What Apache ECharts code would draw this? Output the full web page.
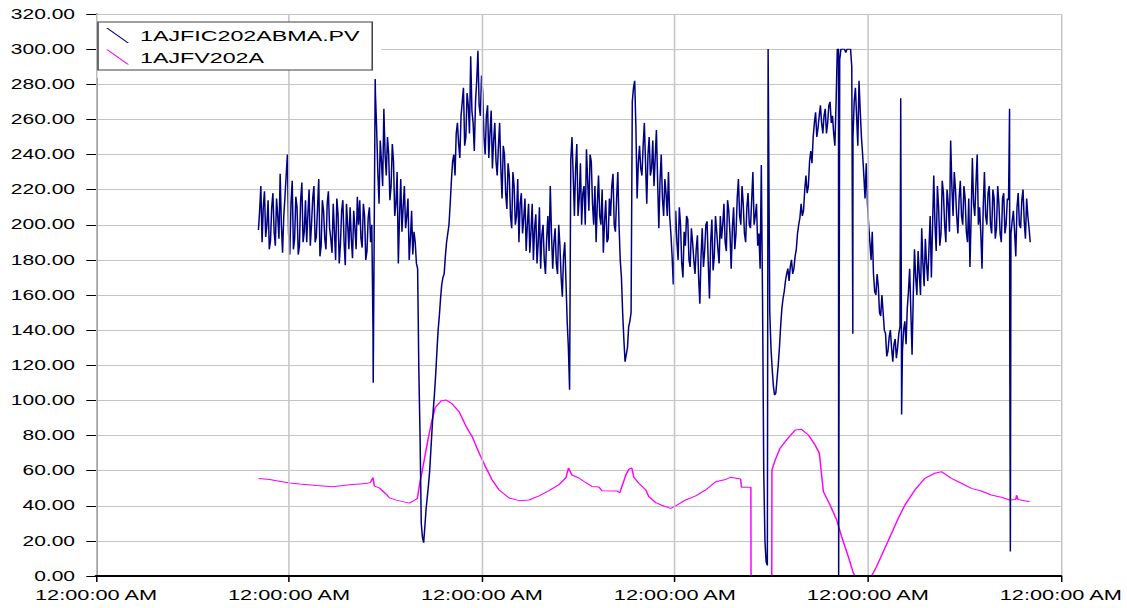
<!DOCTYPE html>
<html><head><meta charset="utf-8">
<script src="https://cdn.jsdelivr.net/npm/echarts@6/dist/echarts.min.js"></script>
<style>
html,body{margin:0;padding:0;background:#fff;overflow:hidden;width:1127px;height:608px}
#wrap{width:751px;height:608px;transform:scaleX(1.50067);transform-origin:0 0;}
</style></head><body><div id="wrap"></div>
<script>
const seriesNames = ['1AJFIC202ABMA.PV', '1AJFV202A'];
const xTickLabels = ['12:00:00 AM', '12:00:00 AM', '12:00:00 AM', '12:00:00 AM', '12:00:00 AM', '12:00:00 AM'];
// blue: time in hours, samples every 0.3 h from 20.2 h, plus a reading half-way between each pair
const blueStart = 20.2, blueStep = 0.3;
const blueValues = [
197,222,210,193,214,191,218,188,205,229,
184,216,240,183,225,192,210,188,224,196,
190,220,200,222,193,226,188,208,186,219,
192,212,180,206,189,214,177,200,210,181,
198,216,214,187,205,185,210,200,196,255,
212,236,266,228,240,222,236,212,178,226,
210,198,215,192,183,190,175,80,22,28,
45,60,84,104,128,148,166,172,190,200,
225,240,252,246,262,278,250,268,296,258,
270,299,262,275,240,268,252,232,258,228,
258,215,240,209,228,198,222,205,190,218,
204,185,212,196,180,206,190,175,200,172,
205,222,175,198,172,188,159,190,145,106,
250,205,246,215,200,222,243,208,236,200,
190,228,200,184,214,192,205,229,196,230,
180,150,122,130,145,270,282,215,245,228,
258,212,250,232,222,254,198,240,205,218,
230,195,166,208,180,200,170,188,203,176,
190,172,194,155,198,185,202,158,203,182,
196,178,192,212,185,208,175,210,195,226,
200,212,190,218,198,230,205,188,175,158,
20,6,150,118,103,112,130,152,162,172,
168,180,175,186,200,212,208,228,222,242,
250,264,255,268,252,266,258,270,262,245,
300,294,300,300,300,300,290,270,262,282,
250,228,235,200,180,172,160,165,148,150,
138,128,140,122,135,130,142,128,145,152,
175,126,186,160,172,198,165,178,186,170,
228,185,210,195,218,190,212,248,205,220,
195,225,200,215,190,176,238,205,240,210,
175,230,200,222,195,215,198,212,190,218,
200,214,195,208,182,218,198,220,192,205,190
];
const blueMidValues = [
208,190,219,200,186,210,196,215,192,200,
205,228,195,212,186,216,183,214,190,214,
206,188,215,190,210,182,214,192,212,198,
184,196,215,178,208,190,212,186,192,208,
186,200,192,212,180,204,190,140,275,230,
248,222,240,250,214,246,205,230,205,196,
222,205,180,208,196,178,117,30,19,38,
52,72,95,115,140,158,170,182,195,212,
236,228,258,238,270,245,275,252,265,242,
282,268,285,250,262,238,265,248,236,245,
232,245,218,235,205,230,200,226,212,195,
215,200,184,212,198,178,210,194,180,192,
185,195,190,178,200,170,182,168,130,237,
228,232,205,235,218,200,225,240,212,222,
212,205,220,202,190,215,222,200,215,200,
170,135,126,142,150,278,255,235,232,245,
235,240,228,248,238,225,225,215,226,205,
205,182,192,190,210,178,196,205,180,198,
180,186,170,182,176,200,178,190,174,205,
186,205,200,190,214,195,198,186,215,205,
222,195,210,200,214,200,212,195,234,60,
8,300,130,108,104,120,142,158,168,175,
176,172,182,195,204,205,220,218,236,235,
258,250,262,258,262,252,268,258,252,270,
300,300,300,298,300,300,250,278,245,265,
240,215,212,190,196,162,172,150,160,140,
125,136,130,132,124,138,180,140,132,162,
150,160,170,185,160,178,192,168,205,200,
200,222,188,225,200,220,196,222,230,205,
215,205,222,196,215,205,212,224,200,195,
210,205,218,200,220,192,222,195,215,195,
215,140,202,196,210,200,214,202,215,198
];
// isolated spikes [hour, value]
const blueSpikes = [
[34.475,110],[34.723,283],[83.594,300],[83.706,300],
[92.368,0],[94.130,138],[100.087,272],[100.199,92],[113.626,266],[113.726,14]
];
const pinkPoints = [
[20.23,55.5],[21.59,55],[22.46,54.2],[24.08,53],[25.32,52.4],[27.43,51.5],[29.41,50.8],[31.52,52],
[33.63,52.6],[34.13,53.3],[34.44,56],[34.62,51.2],[35.24,50.2],[36.11,46.5],[36.49,44.5],[37.35,43.2],
[38.97,41.5],[39.96,44],[40.33,54.5],[40.58,60],[41.20,75.5],[41.70,87],[42.19,96],[42.94,99.8],
[43.56,100.2],[44.30,98],[45.17,93.5],[46.04,85],[46.79,79.3],[47.65,70],[48.52,61.5],[49.27,54.7],
[50.14,49],[51.38,44.4],[52.62,42.9],[53.86,43.3],[55.10,45.6],[56.34,48.6],[57.58,52],[58.45,56],
[58.76,61.5],[59.19,57.5],[60.06,55.8],[60.93,53.1],[61.68,51],[62.55,50.7],[62.92,48.6],[64.78,48.4],
[65.15,47.4],[65.40,50.9],[65.90,57.5],[66.27,60.8],[66.64,61.5],[66.89,56.2],[67.51,52.8],[68.38,49],
[68.75,45.2],[69.62,41.8],[70.36,40.3],[71.48,38.5],[72.10,39.9],[73.34,43.3],[74.58,45.6],[75.83,49],
[77.07,53.7],[78.31,55],[78.93,56.2],[80.17,55.2],[80.29,50.5],[81.45,50.5],[81.47,0],[84.05,0],
[84.07,60.4],[84.47,66],[85.10,72.9],[85.88,77.4],[86.96,83.1],[87.74,83.5],[88.61,80.3],[89.44,74.6],
[89.97,69.9],[90.18,60.4],[90.47,48],[91.30,40.4],[92.12,31.9],[92.74,22.4],[93.57,11],[94.19,1.7],
[94.4,0],[96.46,0],[97.08,5.3],[98.13,16],[98.95,24.3],[99.78,32.8],[100.61,40.4],[101.85,49],
[103.09,55.6],[104.33,58.5],[105.15,59.4],[106.39,55.6],[107.63,52.8],[108.87,49.9],[110.11,48.4],
[111.35,46.1],[112.60,44.8],[113.64,43.3],[114.4,43.6],[114.5,46],[114.67,43.6],[116.12,42.3]
];

const blueData = [];
blueValues.forEach((v, i) => {
  const t = blueStart + i * blueStep;
  blueData.push([+t.toFixed(3), v]);
  if (i < blueMidValues.length) blueData.push([+(t + blueStep / 2).toFixed(3), blueMidValues[i]]);
});
blueSpikes.forEach(p => blueData.push(p));
blueData.sort((a, b) => a[0] - b[0]);

const chart = echarts.init(document.getElementById('wrap'), null, {renderer: 'svg', width: 751, height: 608});
const FONT = 'Liberation Sans, Arial, sans-serif';
chart.setOption({
  animation: false,
  backgroundColor: '#fff',
  grid: {left: 64, right: 42.65, top: 14, bottom: 32, containLabel: false},
  graphic: [{type: 'rect', z: 1, shape: {x: 64.6, y: 15, width: 189.5, height: 63}, style: {fill: '#fff'}, silent: true}],
  legend: {
    orient: 'vertical', left: 65.3, top: 22, z: 4,
    backgroundColor: '#fff', borderColor: '#404040', borderWidth: 1,
    padding: [5.5, 8.3, 5, 5.4], itemGap: 5.5, itemWidth: 15.3, itemHeight: 15,
    icon: 'path://M0,0L1.2,0L15.3,15L14.1,15Z',
    textStyle: {fontFamily: FONT, fontSize: 15.5, color: '#000', lineHeight: 16, padding: [0, 0, 0, 2.3]},
    data: seriesNames
  },
  xAxis: {
    type: 'value', min: 0, max: 120, interval: 24, z: 3,
    axisLine: {show: true, lineStyle: {color: '#000', width: 2}},
    axisTick: {show: true, length: 6, lineStyle: {color: '#000'}},
    axisLabel: {show: true, margin: 11, fontFamily: FONT, fontSize: 14.5, color: '#000',
      showMinLabel: true, showMaxLabel: true,
      formatter: v => xTickLabels[Math.round(v / 24)]},
    splitLine: {show: true, lineStyle: {color: '#c4c4c4', width: 1}}
  },
  yAxis: {
    type: 'value', min: 0, max: 320, interval: 20,
    axisLine: {show: true, lineStyle: {color: '#000', width: 1}},
    axisTick: {show: true, length: 6.5, lineStyle: {color: '#000'}},
    axisLabel: {margin: 14, fontFamily: FONT, fontSize: 14, color: '#000', formatter: v => v.toFixed(2)},
    splitLine: {show: true, lineStyle: {color: '#c4c4c4', width: 1}}
  },
  series: [
    {name: seriesNames[0], type: 'line', data: blueData, showSymbol: false, z: 2.5,
      color: '#000080', lineStyle: {color: '#000080', width: 1}},
    {name: seriesNames[1], type: 'line', data: pinkPoints, showSymbol: false, z: 2,
      color: '#ff00ff', lineStyle: {color: '#ff00ff', width: 1}}
  ]
});
</script></body></html>
